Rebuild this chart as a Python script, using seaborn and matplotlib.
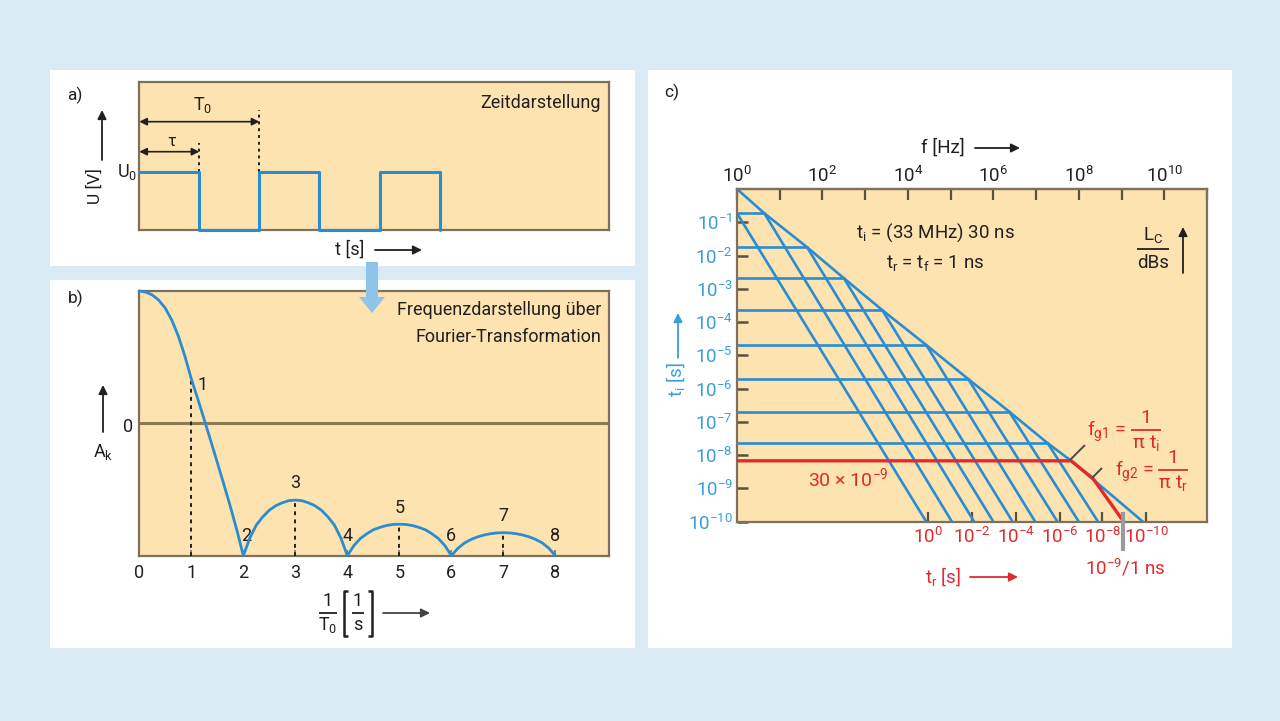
import matplotlib
matplotlib.use("Agg")
import matplotlib.pyplot as plt
from matplotlib import font_manager
from matplotlib.patches import Rectangle, Polygon, FancyArrowPatch
from matplotlib.lines import Line2D
import seaborn as sns

# ---------------- data ----------------
# panel a: square wave (time in units, T0 = 2, tau = 1)
wave_t = [0, 1, 1, 2, 2, 3, 3, 4, 4, 5, 5]
wave_u = [1, 1, 0, 0, 1, 1, 0, 0, 1, 1, 0]

# panel b: amplitude spectrum (0..1 box height, zero line at 0.5)
spec_x = [0, .125, .25, .375, .5, .625, .75, .875, 1, 1.125, 1.25, 1.375, 1.5, 1.625, 1.75, 1.875, 2,
          2.125, 2.25, 2.375, 2.5, 2.625, 2.75, 2.875, 3, 3.125, 3.25, 3.375, 3.5, 3.625, 3.75, 3.875, 4,
          4.125, 4.25, 4.375, 4.5, 4.625, 4.75, 4.875, 5, 5.125, 5.25, 5.375, 5.5, 5.625, 5.75, 5.875, 6,
          6.125, 6.25, 6.375, 6.5, 6.625, 6.75, 6.875, 7, 7.125, 7.25, 7.375, 7.5, 7.625, 7.75, 7.875, 8]
spec_y = [1.0, 0.996, 0.985, 0.965, 0.935, 0.89, 0.83, 0.755, 0.668, 0.592, 0.513, 0.433, 0.352, 0.27, 0.186, 0.097, 0.0,
          0.067, 0.116, 0.147, 0.172, 0.189, 0.2, 0.208, 0.21, 0.208, 0.2, 0.189, 0.172, 0.147, 0.116, 0.067, 0.0,
          0.038, 0.065, 0.083, 0.098, 0.107, 0.114, 0.118, 0.119, 0.118, 0.114, 0.107, 0.098, 0.083, 0.065, 0.038, 0.0,
          0.028, 0.048, 0.061, 0.071, 0.078, 0.083, 0.086, 0.087, 0.086, 0.083, 0.078, 0.071, 0.061, 0.048, 0.028, 0.0]
zero_level = 0.5
harm_k = [1, 2, 3, 4, 5, 6, 7, 8]
harm_val = [0.66, 0.0, 0.21, 0.0, 0.119, 0.0, 0.087, 0.0]
b_ticks = [0, 1, 2, 3, 4, 5, 6, 7, 8]

# panel c: (log10 f, log10 level)
plateau_exp = [-0.73, -1.75, -2.68, -3.64, -4.69, -5.71, -6.69, -7.64]
corner_f_exp = [0.64, 1.64, 2.50, 3.40, 4.43, 5.41, 6.37, 7.27]
steep_start_x = [0.0] + corner_f_exp
steep_start_y = [-0.73] + plateau_exp
steep_end_x = [4.43, 5.03, 5.55, 6.0, 6.45, 6.98, 7.5, 8.0, 8.45]
env_x = [0] + corner_f_exp + [7.82, 9.5]
env_y = [0] + plateau_exp + [-8.17, -10]
red_x = [0, 7.82, 8.33, 9.05]
red_y = [-8.17, -8.17, -8.70, -10]
f_ticks = list(range(0, 12))
f_labels = [r"$10^{%d}$" % k if k % 2 == 0 else "" for k in f_ticks]
ti_ticks = list(range(-10, 0))
ti_labels = [r"$10^{%d}$" % k for k in ti_ticks]
tr_ticks = [4.48, 5.5, 6.52, 7.55, 8.55, 9.58]
tr_labels = [r"$10^{0}$", r"$10^{-2}$", r"$10^{-4}$", r"$10^{-6}$", r"$10^{-8}$", r"$10^{-10}$"]

# ---------------- style ----------------
sns.set_theme(style="white")
avail = {f.name for f in font_manager.fontManager.ttflist}
fam = "DejaVu Sans"
for cand in ["Liberation Sans Narrow", "Roboto", "Open Sans", "Lato"]:
    if cand in avail:
        fam = cand
        break
plt.rcParams["font.family"] = [fam, "DejaVu Sans"]
plt.rcParams["mathtext.default"] = "regular"
plt.rcParams["mathtext.fontset"] = "custom"
plt.rcParams["mathtext.rm"] = fam
plt.rcParams["mathtext.it"] = fam
plt.rcParams["mathtext.bf"] = fam

BG = "#d9eaf5"
FILL = "#fce3b0"
EDGE = "#7e705c"
BLUE = "#2a8cd2"
LBLUE = "#3a9edc"
RED = "#e02a2c"
DARK = "#231f20"

W, H = 1280, 721
fig = plt.figure(figsize=(W / 100, H / 100), dpi=100, facecolor=BG)


def P(x, y):
    return (x / W, 1 - y / H)


def rect(x0, y0, x1, y1):
    return [x0 / W, 1 - y1 / H, (x1 - x0) / W, (y1 - y0) / H]


def ftext(x, y, s, **kw):
    kw.setdefault("ha", "center")
    kw.setdefault("va", "center")
    kw.setdefault("color", DARK)
    kw.setdefault("fontsize", 12.5)
    return fig.text(*P(x, y), s, **kw)


def fline(xs, ys, color=DARK, lw=1.3, z=6):
    fig.add_artist(Line2D([x / W for x in xs], [1 - y / H for y in ys],
                          transform=fig.transFigure, color=color, lw=lw, zorder=z,
                          solid_capstyle="butt"))


def farrow(x0, y0, x1, y1, color=DARK, lw=1.3, ms=13):
    a = FancyArrowPatch(P(x0, y0), P(x1, y1), transform=fig.transFigure,
                        arrowstyle="-|>", mutation_scale=ms, lw=lw, color=color,
                        shrinkA=0, shrinkB=0, zorder=6)
    fig.add_artist(a)


def frac(xc, ybar, num, den, half, color=DARK, fs=12.5, dn=12, dd=12):
    ftext(xc, ybar - dn, num, color=color, fontsize=fs)
    fline([xc - half, xc + half], [ybar, ybar], color=color, lw=1.3)
    ftext(xc, ybar + dd, den, color=color, fontsize=fs)


# white panels
for (x0, y0, x1, y1) in [(50, 70, 635, 266), (50, 280, 635, 648), (648, 70, 1232, 648)]:
    fig.add_artist(Rectangle(P(x0, y1), (x1 - x0) / W, (y1 - y0) / H,
                             transform=fig.transFigure, facecolor="white",
                             edgecolor="none", zorder=-5))


def style_box(ax):
    ax.set_facecolor(FILL)
    for s in ax.spines.values():
        s.set_color(EDGE)
        s.set_linewidth(1.6)
        s.set_visible(True)


# ---------------- panel a ----------------
axa = fig.add_axes(rect(139.3, 81.7, 609, 230))
style_box(axa)
sns.lineplot(x=wave_t, y=wave_u, ax=axa, sort=False, estimator=None,
             color=BLUE, lw=2.2, zorder=4, clip_on=False)
axa.set_xlim(0, 7.82)
axa.set_ylim(0, 2.57)
axa.set_xticks([])
axa.set_yticks([])
axa.set_xlabel("")
axa.set_ylabel("")
for (x1, yy) in [(2, 1.877), (1, 1.357)]:
    axa.annotate("", xy=(x1, yy), xytext=(0, yy),
                 arrowprops=dict(arrowstyle="<|-|>", color=DARK, lw=1.2,
                                 mutation_scale=11, shrinkA=0, shrinkB=0))
axa.plot([1, 1], [1.0, 1.5], ls=(0, (1.5, 2)), color=DARK, lw=1.4)
axa.plot([2, 2], [1.0, 2.08], ls=(0, (1.5, 2)), color=DARK, lw=1.4)
axa.text(1.06, 2.17, r"$T_0$", ha="center", va="center", fontsize=13, color=DARK)
axa.text(0.54, 1.53, r"$\tau$", ha="center", va="center", fontsize=12, color=DARK)

ftext(75, 95, "a)")
ftext(95, 186, "U [V]", rotation=90)
farrow(102, 160, 102, 110)
ftext(137, 172, r"$U_0$", ha="right", fontsize=13)
ftext(601, 103, "Zeitdarstellung", ha="right", fontsize=13)
ftext(350, 250, "t [s]", fontsize=13)
farrow(375, 250, 422, 250)

# ---------------- panel b ----------------
axb = fig.add_axes(rect(139.3, 291, 609, 555.7))
style_box(axb)
axb.axhline(zero_level, color="#8a7b52", lw=2.2, zorder=2)
sns.lineplot(x=spec_x, y=spec_y, ax=axb, sort=False, estimator=None,
             color=BLUE, lw=2.0, zorder=4, clip_on=False)
for k, v in zip(harm_k, harm_val):
    if k % 2 == 1:
        axb.plot([k, k], [0, v], ls=(0, (2, 2.2)), color=DARK, lw=1.4, zorder=3)
label_off = {1: (8, -3), 2: (2, 14), 3: (0, 12), 4: (0, 14),
             5: (0, 12), 6: (0, 14), 7: (0, 12), 8: (0, 14)}
for k, v in zip(harm_k, harm_val):
    axb.annotate(str(k), xy=(k, v), xytext=label_off[k], textcoords="offset points",
                 ha="center", va="center", fontsize=13, color=DARK)
axb.set_xlim(0, 9.03)
axb.set_ylim(0, 1)
axb.set_xticks(b_ticks)
axb.set_xticklabels([str(t) for t in b_ticks])
axb.set_yticks([])
axb.tick_params(axis="x", direction="in", length=4, width=1.2, color=EDGE,
                labelsize=13, labelcolor=DARK, pad=6, bottom=True)
axb.set_xlabel("")
axb.set_ylabel("")

ftext(76, 298, "b)")
ftext(103, 452, r"$A_k$", fontsize=13)
farrow(103, 432, 103, 385)
ftext(133, 427, "0", ha="right", fontsize=13)
ftext(601, 310, "Frequenzdarstellung über", ha="right", fontsize=13)
ftext(601, 337, "Fourier-Transformation", ha="right", fontsize=13)
frac(328, 613, "1", r"$T_0$", 9, fs=13)
frac(358, 613, "1", "s", 6, fs=13)
fline([348, 344, 344, 348], [591, 591, 636, 636], lw=1.8)
fline([368, 372, 372, 368], [591, 591, 636, 636], lw=1.8)
farrow(383, 613, 430, 613, color="#444444")

# blue transition arrow
pts = [(366, 262), (378, 262), (378, 297), (385, 297), (372, 313), (359, 297), (366, 297)]
fig.add_artist(Polygon([P(*p) for p in pts], closed=True, transform=fig.transFigure,
                       facecolor="#8ec3ea", edgecolor="none", zorder=10))

# ---------------- panel c ----------------
axc = fig.add_axes(rect(737, 189, 1207, 521.7))
style_box(axc)
for p, c in zip(plateau_exp, corner_f_exp):
    sns.lineplot(x=[0, c], y=[p, p], ax=axc, color=BLUE, lw=1.9, zorder=3)
for sx, sy, ex in zip(steep_start_x, steep_start_y, steep_end_x):
    sns.lineplot(x=[sx, ex], y=[sy, -10], ax=axc, color=BLUE, lw=1.9, zorder=3)
sns.lineplot(x=env_x, y=env_y, ax=axc, sort=False, estimator=None,
             color=BLUE, lw=1.9, zorder=3)
sns.lineplot(x=red_x, y=red_y, ax=axc, sort=False, estimator=None,
             color=RED, lw=2.4, zorder=4)
axc.set_xlim(0, 11)
axc.set_ylim(-10, 0)
axc.set_xlabel("")
axc.set_ylabel("")
axc.set_yticks(ti_ticks)
axc.set_yticklabels(ti_labels)
axc.tick_params(axis="y", direction="in", length=8, width=1.8, color="#5a5040",
                labelsize=13.5, labelcolor=LBLUE, pad=3, left=True)
axc.set_xticks(tr_ticks)
axc.set_xticklabels(tr_labels)
axc.tick_params(axis="x", direction="in", length=7, width=1.6, color="#5a5040",
                labelsize=13.5, labelcolor=RED, pad=4, bottom=True)
sec = axc.secondary_xaxis("top")
sec.set_xticks(f_ticks)
sec.set_xticklabels(f_labels)
sec.tick_params(axis="x", direction="in", length=8, width=1.6, color="#5a5040",
                labelsize=13.5, labelcolor=DARK, pad=2)
sec.spines["top"].set_color(EDGE)
sec.spines["top"].set_linewidth(1.6)

# 1 ns marker
fline([1123, 1123], [512, 551], color="#9a9a9a", lw=3)
# pointer lines
fline([1070, 1085], [460, 445], color="#4a4a4a", lw=1.4)
fline([1092, 1102], [478, 468], color="#4a4a4a", lw=1.4)

ftext(672, 92, "c)")
ftext(943, 148, "f [Hz]", fontsize=13.5)
farrow(975, 148, 1020, 148)
ftext(935, 233, r"$t_i$ = (33 MHz) 30 ns", fontsize=13.5)
ftext(935, 263, r"$t_r$ = $t_f$ = 1 ns", fontsize=13.5)
frac(1153, 249, r"$L_C$", "dBs", 16, fs=13.5, dn=14, dd=14)
farrow(1183, 273, 1183, 227)
ftext(676, 380, r"$t_i$ [s]", rotation=90, color=LBLUE, fontsize=13.5)
farrow(678, 358, 678, 313, color=LBLUE)
ftext(848, 478, r"30 × $10^{-9}$", color=RED, fontsize=14)
ftext(1126, 431, r"$f_{g1}$ =", ha="right", color=RED, fontsize=14)
frac(1146, 430, "1", r"$\pi\ t_i$", 15, color=RED, fs=14, dn=12, dd=13)
ftext(1154, 471, r"$f_{g2}$ =", ha="right", color=RED, fontsize=14)
frac(1173, 470, "1", r"$\pi\ t_r$", 15, color=RED, fs=14, dn=12, dd=13)
ftext(1125, 568, r"$10^{-9}$/1 ns", color=RED, fontsize=13.5)
ftext(943, 577, r"$t_r$ [s]", color=RED, fontsize=13.5)
farrow(970, 577, 1018, 577, color=RED)

fig.savefig("out.png", dpi=100, facecolor=BG)
